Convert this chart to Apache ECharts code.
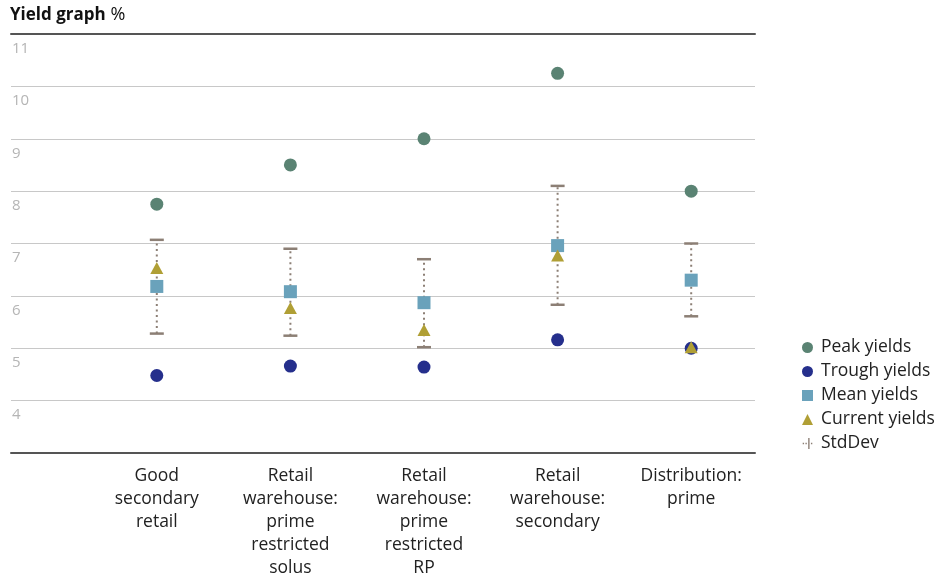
<!DOCTYPE html>
<html>
<head>
<meta charset="utf-8">
<script src="https://cdn.jsdelivr.net/npm/echarts@6/dist/echarts.min.js"></script>
<style>html,body{margin:0;padding:0;background:#fff}#c{width:944px;height:575px}</style>
</head>
<body>
<div id="c"></div>
<script>
const categories = ['Good\nsecondary\nretail', 'Retail\nwarehouse:\nprime\nrestricted\nsolus', 'Retail\nwarehouse:\nprime\nrestricted\nRP', 'Retail\nwarehouse:\nsecondary', 'Distribution:\nprime'];
const peakYields = [7.75, 8.5, 9.0, 10.25, 8.0];
const troughYields = [4.48, 4.66, 4.64, 5.16, 5.0];
const meanYields = [6.18, 6.08, 5.87, 6.96, 6.3];
const currentYields = [6.53, 5.77, 5.35, 6.77, 5.02];
const stdLow = [5.28, 5.24, 5.02, 5.83, 5.61];
const stdHigh = [7.07, 6.9, 6.7, 8.1, 7.0];
const yMin = 3, yMax = 11, yStep = 1;

const FONT = 'Open Sans';
const chart = echarts.init(document.getElementById('c'), null, {renderer: 'canvas'});
const stdData = categories.map((c, i) => [i, stdLow[i], stdHigh[i]]);

chart.setOption({
  animation: false,
  textStyle: {fontFamily: FONT},
  title: {
    left: 10, top: 6, padding: 0,
    text: '{b|Yield graph} {n|%}',
    textStyle: {
      rich: {
        b: {fontFamily: FONT, fontWeight: 'bold', fontSize: 17, color: '#111'},
        n: {fontFamily: FONT, fontWeight: 'normal', fontSize: 18, color: '#111'}
      }
    }
  },
  legend: {
    orient: 'vertical', left: 802, top: 336, padding: 0,
    itemWidth: 11, itemHeight: 11, itemGap: 1,
    textStyle: {fontFamily: FONT, fontSize: 17.5, color: '#222', lineHeight: 23, padding: [0, 0, 0, 3]},
    data: [
      {name: 'Peak yields', icon: 'circle'},
      {name: 'Trough yields', icon: 'circle'},
      {name: 'Mean yields', icon: 'rect'},
      {name: 'Current yields', icon: 'triangle'},
      {name: 'StdDev', icon: 'path://M0,9h2v2h-2zM4,9h2v2h-2zM8,2h2v16h-2zM8,9h0zM12,9h2v2h-2z', itemStyle: {color: '#8c7f75'}}
    ]
  },
  grid: [
    {left: 11, right: 189, top: 34, bottom: 122, outerBoundsMode: 'none', containLabel: false},
    {left: 90, right: 186, top: 34, bottom: 122, outerBoundsMode: 'none', containLabel: false}
  ],
  xAxis: [
    {gridIndex: 0, type: 'value', position: 'bottom', min: 0, max: 1, show: true,
     axisLine: {show: true, lineStyle: {color: '#555', width: 2}}, axisTick: {show: false}, axisLabel: {show: false}, splitLine: {show: false}},
    {gridIndex: 0, type: 'value', position: 'top', min: 0, max: 1, show: true,
     axisLine: {show: true, lineStyle: {color: '#555', width: 2}}, axisTick: {show: false}, axisLabel: {show: false}, splitLine: {show: false}},
    {gridIndex: 1, type: 'category', data: categories, boundaryGap: true, position: 'bottom',
     axisLine: {show: false}, axisTick: {show: false},
     axisLabel: {interval: 0, margin: 12, fontFamily: FONT, fontSize: 17.5, color: '#222', lineHeight: 23, align: 'center'}}
  ],
  yAxis: [
    {gridIndex: 0, type: 'value', min: yMin, max: yMax, interval: yStep,
     axisLine: {show: false}, axisTick: {show: false},
     splitLine: {show: true, lineStyle: {color: '#c8c8c8', width: 1}},
     axisLabel: {inside: true, margin: 1, verticalAlign: 'top', padding: [7, 0, 0, 0], fontFamily: FONT, fontSize: 15, color: '#b5b5b5',
       formatter: v => (v === yMin ? '' : String(v))}},
    {gridIndex: 1, type: 'value', min: yMin, max: yMax, interval: yStep, show: false, splitLine: {show: false}}
  ],
  series: [
    {
      name: 'StdDev', type: 'custom', xAxisIndex: 2, yAxisIndex: 1, z: 1,
      itemStyle: {color: '#8c7f75'},
      data: stdData,
      renderItem: function (params, api) {
        const x = api.value(0);
        const lo = api.coord([x, api.value(1)]);
        const hi = api.coord([x, api.value(2)]);
        const hw = 7;
        const col = '#8c7f75';
        return {
          type: 'group',
          children: [
            {type: 'line', shape: {x1: lo[0], y1: lo[1], x2: hi[0], y2: hi[1]},
             style: {stroke: col, lineWidth: 2, lineDash: [2, 3.5]}},
            {type: 'line', shape: {x1: hi[0] - hw, y1: hi[1], x2: hi[0] + hw, y2: hi[1]},
             style: {stroke: col, lineWidth: 2.5}},
            {type: 'line', shape: {x1: lo[0] - hw, y1: lo[1], x2: lo[0] + hw, y2: lo[1]},
             style: {stroke: col, lineWidth: 2.5}}
          ]
        };
      }
    },
    {name: 'Peak yields', type: 'scatter', xAxisIndex: 2, yAxisIndex: 1, symbol: 'circle', symbolSize: 13,
     itemStyle: {color: '#5a8373', opacity: 1}, data: peakYields, z: 3},
    {name: 'Trough yields', type: 'scatter', xAxisIndex: 2, yAxisIndex: 1, symbol: 'circle', symbolSize: 13,
     itemStyle: {color: '#252f8c', opacity: 1}, data: troughYields, z: 3},
    {name: 'Mean yields', type: 'scatter', xAxisIndex: 2, yAxisIndex: 1, symbol: 'rect', symbolSize: 13,
     itemStyle: {color: '#6aa2bb', opacity: 1}, data: meanYields, z: 4},
    {name: 'Current yields', type: 'scatter', xAxisIndex: 2, yAxisIndex: 1, symbol: 'triangle', symbolSize: [13, 12],
     itemStyle: {color: '#b09f35', opacity: 1}, data: currentYields, z: 5}
  ]
});
</script>
</body>
</html>
